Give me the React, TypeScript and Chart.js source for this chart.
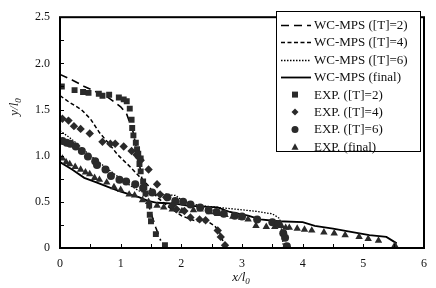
import React, { useEffect, useRef } from 'react';
import { Chart, registerables } from 'chart.js';

Chart.register(...registerables);

type P = [number, number];

// Axis ranges and tick labels
const xTickValues = [0, 1, 2, 3, 4, 5, 6];
const yTickValues = [0, 0.5, 1, 1.5, 2, 2.5];

// Simulation lines (WC-MPS)
const simT2: P[] = [[0, 1.88], [0.2, 1.82], [0.4, 1.75], [0.6, 1.69], [0.75, 1.65], [0.9, 1.58], [1.0, 1.53], [1.1, 1.45], [1.2, 1.27], [1.28, 1.02], [1.35, 0.75], [1.42, 0.55], [1.5, 0.38], [1.58, 0.22], [1.66, 0.08]];
const simT4: P[] = [[0, 1.65], [0.15, 1.58], [0.35, 1.5], [0.5, 1.4], [0.65, 1.25], [0.82, 1.12], [0.95, 1.01], [1.14, 0.89], [1.3, 0.78], [1.45, 0.68], [1.6, 0.55], [1.8, 0.44], [2.0, 0.35], [2.2, 0.3], [2.45, 0.28], [2.55, 0.24], [2.63, 0.17], [2.7, 0.05]];
const simT6: P[] = [[0, 1.27], [0.15, 1.2], [0.3, 1.12], [0.5, 1.0], [0.7, 0.9], [0.9, 0.8], [1.1, 0.7], [1.3, 0.62], [1.5, 0.58], [1.7, 0.58], [1.9, 0.57], [2.05, 0.5], [2.3, 0.46], [2.6, 0.44], [2.9, 0.42], [3.2, 0.4], [3.5, 0.37], [3.62, 0.32], [3.65, 0.2], [3.68, 0.03]];
const simFinal: P[] = [[0, 0.93], [0.2, 0.85], [0.4, 0.76], [0.6, 0.71], [0.8, 0.66], [1.0, 0.61], [1.15, 0.58], [1.3, 0.55], [1.45, 0.51], [1.6, 0.49], [1.9, 0.48], [2.1, 0.46], [2.3, 0.45], [2.6, 0.44], [2.8, 0.39], [3.1, 0.35], [3.3, 0.31], [3.6, 0.29], [4.0, 0.28], [4.2, 0.24], [4.5, 0.21], [4.75, 0.18], [5.1, 0.14], [5.38, 0.12], [5.55, 0.05]];

// Experimental points
const expT2: P[] = [[0.03, 1.75], [0.24, 1.71], [0.38, 1.69], [0.47, 1.68], [0.64, 1.67], [0.7, 1.65], [0.81, 1.66], [0.97, 1.63], [1.05, 1.61], [1.1, 1.59], [1.15, 1.51], [1.18, 1.39], [1.19, 1.3], [1.21, 1.22], [1.25, 1.14], [1.27, 1.07], [1.29, 1.02], [1.33, 0.97], [1.31, 0.91], [1.33, 0.83], [1.37, 0.72], [1.39, 0.66], [1.41, 0.59], [1.47, 0.46], [1.48, 0.36], [1.5, 0.29], [1.58, 0.15], [1.73, 0.03]];
const expT4: P[] = [[0.04, 1.4], [0.14, 1.38], [0.23, 1.32], [0.34, 1.29], [0.49, 1.24], [0.7, 1.15], [0.83, 1.13], [0.91, 1.13], [1.05, 1.1], [1.18, 1.05], [1.26, 1.01], [1.3, 0.98], [1.33, 0.95], [1.46, 0.85], [1.6, 0.69], [1.65, 0.58], [1.75, 0.55], [1.85, 0.46], [1.92, 0.42], [2.05, 0.4], [2.15, 0.33], [2.3, 0.31], [2.4, 0.3], [2.6, 0.19], [2.65, 0.12], [2.72, 0.03]];
const expT6: P[] = [[0.04, 1.16], [0.11, 1.14], [0.17, 1.13], [0.26, 1.1], [0.36, 1.05], [0.46, 0.99], [0.58, 0.94], [0.61, 0.9], [0.75, 0.85], [0.84, 0.78], [0.98, 0.74], [1.09, 0.72], [1.24, 0.69], [1.37, 0.65], [1.52, 0.6], [1.77, 0.55], [1.9, 0.51], [2.03, 0.5], [2.15, 0.47], [2.31, 0.44], [2.45, 0.41], [2.58, 0.39], [2.7, 0.37], [2.88, 0.35], [3.0, 0.34], [3.25, 0.31], [3.5, 0.28], [3.6, 0.26], [3.68, 0.16], [3.71, 0.11], [3.74, 0.02]];
const expFinal: P[] = [[0.04, 0.97], [0.1, 0.93], [0.16, 0.91], [0.25, 0.88], [0.34, 0.85], [0.42, 0.82], [0.49, 0.8], [0.57, 0.76], [0.65, 0.74], [0.77, 0.71], [0.89, 0.66], [1.0, 0.63], [1.14, 0.58], [1.23, 0.57], [1.36, 0.52], [1.46, 0.5], [1.6, 0.46], [1.71, 0.44], [1.85, 0.42], [2.01, 0.4], [2.2, 0.41], [2.31, 0.42], [2.47, 0.39], [2.6, 0.37], [2.72, 0.36], [2.85, 0.34], [2.99, 0.33], [3.1, 0.31], [3.23, 0.24], [3.4, 0.23], [3.54, 0.23], [3.65, 0.24], [3.72, 0.22], [3.78, 0.22], [3.91, 0.21], [4.03, 0.2], [4.15, 0.19], [4.35, 0.17], [4.52, 0.16], [4.7, 0.14], [4.93, 0.12], [5.08, 0.1], [5.25, 0.08], [5.52, 0.03]];

const lineLabels = ['WC-MPS ([T]=2)', 'WC-MPS ([T]=4)', 'WC-MPS ([T]=6)', 'WC-MPS (final)'];
const pointLabels = ['EXP. ([T]=2)', 'EXP. ([T]=4)', 'EXP. ([T]=6)', 'EXP. (final)'];

const SERIF = '"Liberation Serif", "Times New Roman", serif';
const INK = '#111';
const MARK = '#2a2a2a';

const toXY = (arr: P[]) => arr.map(([x, y]) => ({ x, y }));

const lineDashes = [[8, 5], [4, 2.5], [1.5, 1.5], []];
const lineWidths = [1.6, 1.5, 1.3, 1.8];
const pointStyles = ['rect', 'rectRot', 'circle', 'triangle'];
const pointRadii = [4.2, 4.2, 4, 4.3];

function drawMarker(ctx: CanvasRenderingContext2D, style: string, x: number, y: number) {
  ctx.beginPath();
  if (style === 'rect') {
    ctx.rect(x - 3, y - 3, 6, 6);
  } else if (style === 'rectRot') {
    ctx.moveTo(x, y - 3.5); ctx.lineTo(x + 3.5, y); ctx.lineTo(x, y + 3.5); ctx.lineTo(x - 3.5, y); ctx.closePath();
  } else if (style === 'circle') {
    ctx.arc(x, y, 3.5, 0, Math.PI * 2);
  } else {
    ctx.moveTo(x, y - 3.5); ctx.lineTo(x + 3.5, y + 3); ctx.lineTo(x - 3.5, y + 3); ctx.closePath();
  }
  ctx.fill();
}

function drawSubTitle(ctx: CanvasRenderingContext2D, main: string, sub: string, cx: number, cy: number) {
  const f1 = `italic 13px ${SERIF}`;
  const f2 = `italic 9px ${SERIF}`;
  ctx.font = f1;
  const w1 = ctx.measureText(main).width;
  ctx.font = f2;
  const w2 = ctx.measureText(sub).width;
  const start = cx - (w1 + w2) / 2;
  ctx.textAlign = 'left';
  ctx.textBaseline = 'middle';
  ctx.font = f1;
  ctx.fillText(main, start, cy);
  ctx.font = f2;
  ctx.fillText(sub, start + w1, cy + 4);
}

const decorPlugin = {
  id: 'decor',
  afterDraw(chart: any) {
    const { ctx, chartArea: a, scales } = chart;
    const xs = scales.x;
    const ys = scales.y;
    ctx.save();
    ctx.strokeStyle = '#000';
    ctx.fillStyle = INK;
    ctx.lineWidth = 1;
    // inward minor ticks
    for (let i = 0; i <= 12; i++) {
      const px = Math.round(xs.getPixelForValue(i * 0.5)) + 0.5;
      ctx.beginPath(); ctx.moveTo(px, a.bottom); ctx.lineTo(px, a.bottom - 4); ctx.stroke();
    }
    for (let i = 0; i <= 10; i++) {
      const py = Math.round(ys.getPixelForValue(i * 0.25)) + 0.5;
      ctx.beginPath(); ctx.moveTo(a.left, py); ctx.lineTo(a.left + 4, py); ctx.stroke();
    }
    // frame
    ctx.lineWidth = 2;
    ctx.strokeRect(a.left, a.top, a.right - a.left, a.bottom - a.top);

    // legend
    const lx0 = 276, ly0 = 11, lx1 = 420, ly1 = 151;
    ctx.fillStyle = '#fff';
    ctx.fillRect(lx0, ly0, lx1 - lx0, ly1 - ly0);
    ctx.lineWidth = 1;
    ctx.strokeStyle = '#000';
    ctx.strokeRect(lx0 + 0.5, ly0 + 0.5, lx1 - lx0, ly1 - ly0);
    ctx.font = `13px ${SERIF}`;
    ctx.textAlign = 'left';
    ctx.textBaseline = 'middle';
    const rowH = 17.4;
    for (let i = 0; i < 4; i++) {
      const y = Math.round(25 + i * rowH) + 0.5;
      ctx.strokeStyle = '#000';
      ctx.lineWidth = lineWidths[i];
      ctx.setLineDash(lineDashes[i]);
      ctx.beginPath(); ctx.moveTo(281, y); ctx.lineTo(311, y); ctx.stroke();
      ctx.setLineDash([]);
      ctx.fillStyle = INK;
      ctx.fillText(lineLabels[i], 314, y + 0.5);
    }
    for (let i = 0; i < 4; i++) {
      const y = 25 + (i + 4) * rowH;
      ctx.fillStyle = MARK;
      drawMarker(ctx, pointStyles[i], 295, y);
      ctx.fillStyle = INK;
      ctx.font = `13px ${SERIF}`;
      ctx.textAlign = 'left';
      ctx.textBaseline = 'middle';
      ctx.fillText(pointLabels[i], 314, y + 0.5);
    }

    // axis titles
    ctx.fillStyle = INK;
    drawSubTitle(ctx, 'x/l', '0', (a.left + a.right) / 2 - 1, 278);
    ctx.save();
    ctx.translate(15, 107);
    ctx.rotate(-Math.PI / 2);
    drawSubTitle(ctx, 'y/l', '0', 0, 0);
    ctx.restore();
    ctx.restore();
  },
};

export default function App() {
  const ref = useRef<HTMLCanvasElement | null>(null);
  useEffect(() => {
    if (!ref.current) return;
    const sims = [simT2, simT4, simT6, simFinal];
    const exps = [expT2, expT4, expT6, expFinal];
    const datasets: any[] = [];
    exps.forEach((d, i) => {
      datasets.push({
        label: pointLabels[i],
        data: toXY(d),
        showLine: false,
        pointStyle: pointStyles[i],
        pointRadius: pointRadii[i],
        backgroundColor: MARK,
        borderColor: MARK,
        borderWidth: 0,
      });
    });
    sims.forEach((d, i) => {
      datasets.push({
        label: lineLabels[i],
        data: toXY(d),
        showLine: true,
        pointRadius: 0,
        borderColor: '#000',
        borderWidth: lineWidths[i],
        borderDash: lineDashes[i],
        fill: false,
        tension: 0,
      });
    });
    const chart = new Chart(ref.current, {
      type: 'scatter',
      data: { datasets },
      options: {
        animation: false,
        responsive: false,
        devicePixelRatio: 1,
        layout: { padding: { top: 10, right: 8, left: 0, bottom: 0 } },
        plugins: { legend: { display: false }, tooltip: { enabled: false } },
        scales: {
          x: {
            type: 'linear',
            min: xTickValues[0],
            max: xTickValues[xTickValues.length - 1],
            afterBuildTicks: (s: any) => { s.ticks = xTickValues.map((v) => ({ value: v })); },
            afterFit: (s: any) => { s.height = 40; },
            grid: { display: false, drawTicks: false },
            border: { display: false },
            ticks: { color: INK, font: { family: SERIF, size: 12 }, padding: 9, maxRotation: 0 },
          },
          y: {
            type: 'linear',
            min: yTickValues[0],
            max: yTickValues[yTickValues.length - 1],
            afterBuildTicks: (s: any) => { s.ticks = yTickValues.map((v) => ({ value: v })); },
            afterFit: (s: any) => { s.width = 60; },
            grid: { display: false, drawTicks: false },
            border: { display: false },
            ticks: { color: INK, font: { family: SERIF, size: 12 }, padding: 10 },
          },
        },
      },
      plugins: [decorPlugin],
    });
    return () => chart.destroy();
  }, []);
  return (
    <div style={{ position: 'fixed', left: 0, top: 0, width: 436, height: 288, background: '#fff' }}>
      <canvas ref={ref} width={436} height={288} style={{ width: 436, height: 288, display: 'block' }} />
    </div>
  );
}
